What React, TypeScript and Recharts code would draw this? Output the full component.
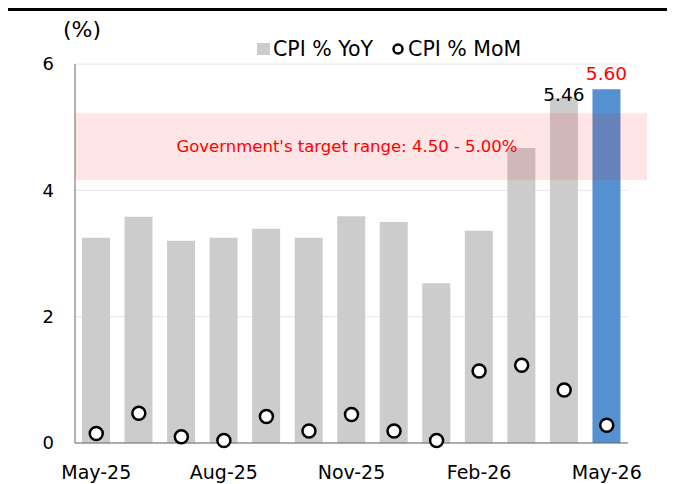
import React from "react";
import {
  ComposedChart,
  Bar,
  Line,
  XAxis,
  YAxis,
  CartesianGrid,
  Cell,
  LabelList,
  ReferenceArea,
} from "recharts";

const MONTHS = [
  "May-25", "Jun-25", "Jul-25", "Aug-25", "Sep-25", "Oct-25", "Nov-25",
  "Dec-25", "Jan-26", "Feb-26", "Mar-26", "Apr-26", "May-26",
];
const CPI_YOY = [3.25, 3.58, 3.2, 3.25, 3.39, 3.25, 3.59, 3.5, 2.53, 3.36, 4.67, 5.46, 5.6];
const CPI_MOM = [0.15, 0.47, 0.1, 0.04, 0.42, 0.19, 0.45, 0.19, 0.04, 1.14, 1.23, 0.84, 0.28];
const Y_TICKS = [0, 2, 4, 6];
// the shaded box in the source is drawn a bit wider than the stated range
const TARGET_BAND = [4.16, 5.22];
const TARGET_TEXT = "Government's target range: 4.50 - 5.00%";

const FONT = "'DejaVu Sans', Verdana, sans-serif";
const GREY = "#CCCCCC";
const BLUE = "#5591D0";
// value labels only on the last two bars
const LABEL_COLORS: Record<number, string> = { 11: "#000000", 12: "#FF0000" };

const data = MONTHS.map((m, i) => ({ month: m, yoy: CPI_YOY[i], mom: CPI_MOM[i] }));

function BandShape(props: any) {
  const { x, y, width, height } = props;
  return (
    <g>
      <rect x={x} y={y} width={width + 19} height={height} fill="#FF0000" fillOpacity={0.1} />
      <text
        x={x + 272}
        y={y + height / 2}
        textAnchor="middle"
        dominantBaseline="central"
        fill="#FF0000"
        fontSize={16.5}
        fontFamily={FONT}
      >
        {TARGET_TEXT}
      </text>
    </g>
  );
}

function BarValue(props: any) {
  const { x, y, width, value, index } = props;
  const color = LABEL_COLORS[index];
  if (!color) return null;
  return (
    <text
      x={x + width / 2}
      y={index === 11 ? y + 3 : y - 9}
      textAnchor="middle"
      fill={color}
      fontSize={18.5}
      fontFamily={FONT}
    >
      {Number(value).toFixed(2)}
    </text>
  );
}

function LegendBox() {
  return (
    <div
      style={{
        position: "absolute",
        left: 249,
        top: 26,
        display: "flex",
        alignItems: "center",
        fontSize: 20.5,
        color: "#000",
      }}
    >
      <span style={{ width: 13, height: 12, background: GREY, marginRight: 3 }} />
      <span style={{ marginRight: 19 }}>CPI % YoY</span>
      <svg width={12} height={12} style={{ marginRight: 4 }}>
        <circle cx={6} cy={6} r={4.5} fill="#fff" stroke="#000" strokeWidth={2.5} />
      </svg>
      <span>CPI % MoM</span>
    </div>
  );
}

export default function App() {
  return (
    <div
      style={{
        position: "relative",
        width: 659,
        height: 476,
        borderTop: "3px solid #000",
        boxSizing: "border-box",
        fontFamily: FONT,
      }}
    >
      <div style={{ position: "absolute", left: 55, top: 6, fontSize: 22 }}>(%)</div>
      <LegendBox />
      <ComposedChart
        width={659}
        height={473}
        data={data}
        margin={{ top: 53, right: 39, left: 17, bottom: 1 }}
      >
        <CartesianGrid vertical={false} stroke="#E6E6E6" />
        <XAxis
          dataKey="month"
          interval={2}
          tickLine={false}
          tickSize={0}
          tickMargin={23}
          height={40}
          axisLine={{ stroke: "#666666" }}
          tick={{ fill: "#000", fontSize: 19, fontFamily: FONT }}
        />
        <YAxis
          domain={[0, 6]}
          ticks={Y_TICKS}
          width={50}
          tickLine={false}
          tickSize={0}
          tickMargin={21}
          axisLine={{ stroke: "#666666" }}
          tick={{ fill: "#000", fontSize: 18, fontFamily: FONT }}
        />
        <Bar dataKey="yoy" name="CPI % YoY" fill={GREY} barSize={28} isAnimationActive={false}>
          {data.map((d, i) => (
            <Cell key={`c-${i}`} fill={i === data.length - 1 ? BLUE : GREY} />
          ))}
          <LabelList dataKey="yoy" content={BarValue} />
        </Bar>
        <ReferenceArea
          y1={TARGET_BAND[0]}
          y2={TARGET_BAND[1]}
          shape={BandShape}
          ifOverflow="visible"
          zIndex={350}
        />
        <Line
          dataKey="mom"
          name="CPI % MoM"
          stroke="none"
          dot={{ r: 6.5, fill: "#fff", stroke: "#000", strokeWidth: 2.5 }}
          activeDot={false}
          isAnimationActive={false}
        />
      </ComposedChart>
    </div>
  );
}
